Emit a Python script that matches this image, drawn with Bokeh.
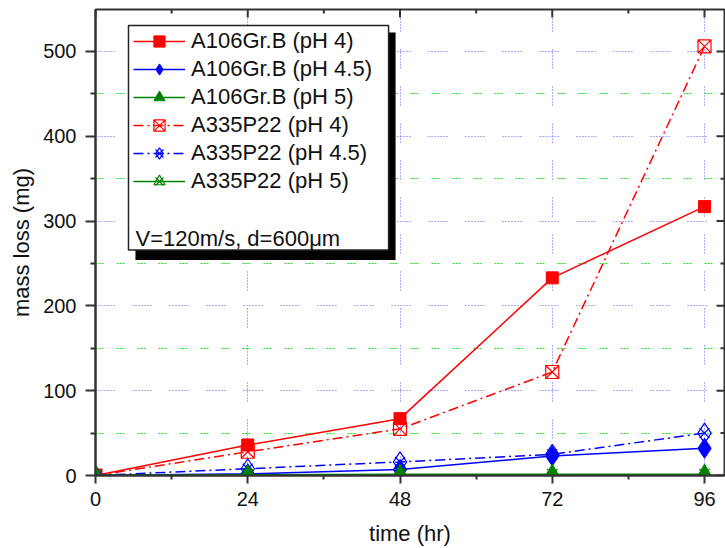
import math
from bokeh.plotting import figure
from bokeh.models import Range1d, FixedTicker, Legend, LegendItem
from bokeh.core.properties import value
from bokeh.embed import file_html
from bokeh.resources import INLINE

# ---- data ----
hours = [0, 24, 48, 72, 96]
a106_ph4 = [0, 36, 67, 233, 317]
a106_ph45 = [0, 2, 7, 23, 32]
a106_ph5 = [0, 0.5, 1, 1, 1]
a335_ph4 = [0, 28, 55, 122, 506]
a335_ph45 = [0, 8, 16, 25, 50]
a335_ph5 = [0, 1, 1.5, 1.5, 1.5]

labels = ["A106Gr.B (pH 4)", "A106Gr.B (pH 4.5)", "A106Gr.B (pH 5)",
          "A335P22 (pH 4)", "A335P22 (pH 4.5)", "A335P22 (pH 5)"]
note = "V=120m/s, d=600\u03bcm"

x_major = [0, 24, 48, 72, 96]
x_minor = [12, 36, 60, 84]
y_major = [0, 100, 200, 300, 400, 500]
y_minor = [50, 150, 250, 350, 450, 550]

# ---- layout / style constants ----
W, H = 725, 548
X_END, Y_END = 99.15, 549.4
FONT = "Liberation Sans"
AX = "#333333"
RED, BLUE, GREEN = "#ff0000", "#0000ff", "#008000"
DASHDOT = "10 4 2 4"

p = figure(width=W, height=H, output_backend="svg", toolbar_location=None,
           x_range=Range1d(0, X_END), y_range=Range1d(0, Y_END),
           min_border_left=95, min_border_right=1, min_border_top=9,
           min_border_bottom=72)
p.outline_line_color = AX
p.outline_line_width = 2
p.background_fill_color = "white"
p.border_fill_color = "white"

xt = FixedTicker(ticks=x_major, minor_ticks=x_minor)
yt = FixedTicker(ticks=y_major, minor_ticks=y_minor)

def style_axis(ax, ticker):
    ax.ticker = ticker
    ax.axis_line_color = AX
    ax.axis_line_width = 2
    ax.major_tick_line_color = AX
    ax.major_tick_line_width = 2
    ax.minor_tick_line_color = AX
    ax.minor_tick_line_width = 2
    ax.major_label_text_font = FONT
    ax.major_label_text_font_size = "20px"
    ax.major_label_text_color = "#111111"
    ax.axis_label_text_font = FONT
    ax.axis_label_text_font_size = "22px"
    ax.axis_label_text_font_style = "normal"
    ax.axis_label_text_color = "#111111"

xa = p.xaxis[0]
style_axis(xa, xt)
xa.axis_label = "time (hr)"
xa.major_tick_out = 8
xa.major_tick_in = 0
xa.minor_tick_out = 4
xa.minor_tick_in = 0
xa.major_label_standoff = 8
xa.axis_label_standoff = 12

ya = p.yaxis[0]
style_axis(ya, yt)
ya.axis_label = "mass loss (mg)"
ya.major_tick_out = 10
ya.major_tick_in = 0
ya.minor_tick_out = 5
ya.minor_tick_in = 0
ya.major_label_standoff = 9
ya.axis_label_standoff = 6

# grids
p.xgrid.ticker = xt
p.ygrid.ticker = yt
GRID_DASH = "1 2 1 2 1 2 1 2 1 2 1 2 1 18"
p.xgrid.grid_line_color = "#5555ff"
p.xgrid.grid_line_width = 1
p.xgrid.grid_line_dash = GRID_DASH
p.ygrid.grid_line_color = "#5555ff"
p.ygrid.grid_line_width = 1
p.ygrid.grid_line_dash = GRID_DASH
p.ygrid.minor_grid_line_color = "#22dd22"
p.ygrid.minor_grid_line_width = 1
p.ygrid.minor_grid_line_dash = "2 1 2 1 2 13"

# inward ticks on the top and right frame edges (clipped to the frame)
p.scatter(x_major, [Y_END] * len(x_major), marker="dash", size=16, angle=math.pi / 2,
          line_color=AX, line_width=2)
p.scatter(x_minor, [Y_END] * len(x_minor), marker="dash", size=8, angle=math.pi / 2,
          line_color=AX, line_width=2)
p.scatter([X_END] * len(y_major), y_major, marker="dash", size=16,
          line_color=AX, line_width=2)
p.scatter([X_END] * len(y_minor), y_minor, marker="dash", size=8,
          line_color=AX, line_width=2)

# legend frame with shadow and note (data units of the fixed ranges)
p.quad(left=[6.3], right=[47.3], top=[522.4], bottom=[254.1],
       fill_color="black", line_color=None)
p.quad(left=[5.2], right=[46.2], top=[530.6], bottom=[265.9],
       fill_color="white", line_color="#222222", line_width=1.5)
p.text(x=[6.3], y=[280.0], text=[note], text_font=value(FONT),
       text_font_size="22px", text_color="#111111", text_baseline="middle")

# series
l1 = p.line(hours, a106_ph4, line_color=RED, line_width=1.5)
m1 = p.scatter(hours, a106_ph4, marker="square", size=12, fill_color=RED, line_color=RED)

l2 = p.line(hours, a106_ph45, line_color=BLUE, line_width=1.5)
m2 = p.scatter(hours, a106_ph45, marker="diamond", size=20, fill_color=BLUE, line_color=BLUE)

l4 = p.line(hours, a335_ph4, line_color=RED, line_width=1.5, line_dash=DASHDOT)
m4 = p.scatter(hours, a335_ph4, marker="square_x", size=13, fill_color=None,
               line_color=RED, line_width=1.2)

l5 = p.line(hours, a335_ph45, line_color=BLUE, line_width=1.5, line_dash=DASHDOT)
m5a = p.scatter(hours, a335_ph45, marker="diamond", size=20, fill_color=None,
                line_color=BLUE, line_width=1.2)
m5b = p.scatter(hours, a335_ph45, marker="x", size=14, line_color=BLUE, line_width=1.2)

l3 = p.line(hours, a106_ph5, line_color=GREEN, line_width=1.5)
m3 = p.scatter(hours, a106_ph5, marker="triangle", size=15, fill_color=GREEN, line_color=GREEN)

l6 = p.line(hours, a335_ph5, line_color=GREEN, line_width=1.5)
m6a = p.scatter(hours, a335_ph5, marker="triangle", size=17, fill_color=None,
                line_color=GREEN, line_width=1.2)
m6b = p.scatter(hours, a335_ph5, marker="x", size=15, line_color=GREEN, line_width=1.2)

items = [
    LegendItem(label=labels[0], renderers=[l1, m1]),
    LegendItem(label=labels[1], renderers=[l2, m2]),
    LegendItem(label=labels[2], renderers=[l3, m3]),
    LegendItem(label=labels[3], renderers=[l4, m4]),
    LegendItem(label=labels[4], renderers=[l5, m5a, m5b]),
    LegendItem(label=labels[5], renderers=[l6, m6a, m6b]),
]
legend = Legend(items=items, location=(38, 280),
                border_line_alpha=0, background_fill_alpha=0,
                glyph_width=52, glyph_height=28, label_height=28,
                label_standoff=6, spacing=0, padding=0, margin=0,
                label_text_font=FONT, label_text_font_size="22px",
                label_text_color="#111111")
p.add_layout(legend)

open("out.html", "w").write(file_html(p, INLINE))
